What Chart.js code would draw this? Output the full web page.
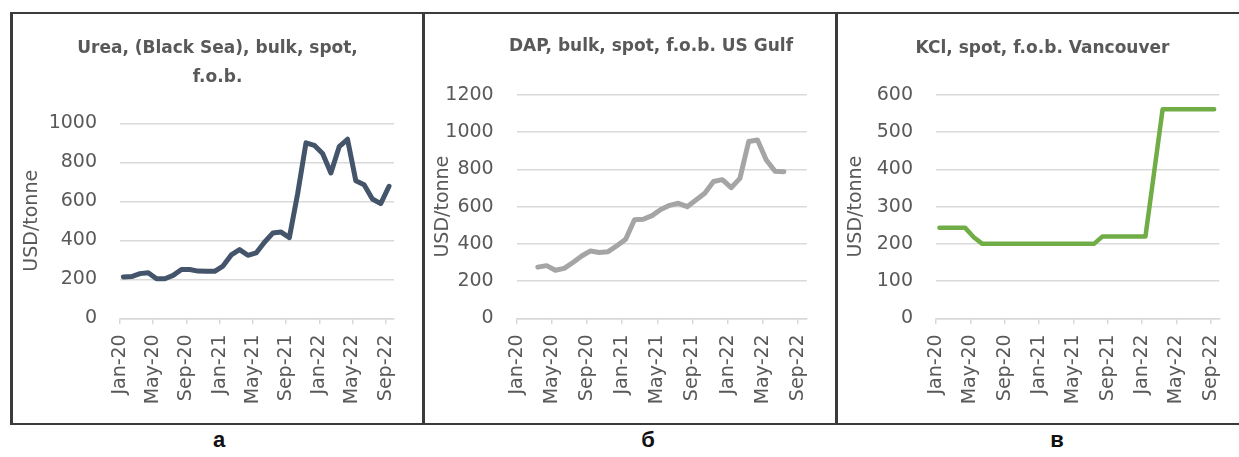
<!DOCTYPE html>
<html>
<head>
<meta charset="utf-8">
<script src="https://cdn.jsdelivr.net/npm/chart.js@4.4.1/dist/chart.umd.min.js"></script>
<style>
  html, body { margin:0; padding:0; background:#fff; }
  body { position:relative; width:1239px; height:457px; overflow:hidden; font-family:"DejaVu Sans", sans-serif; }
  canvas { position:absolute; }
  .ln { position:absolute; background:#3b3b3b; }
  .lbl { position:absolute; top:427px; width:60px; text-align:center; font:bold 22px "Liberation Sans", Arial, sans-serif; color:#111; }
</style>
</head>
<body>
<canvas id="ureaChart" width="409" height="409" style="left:13px;top:14px"></canvas>
<canvas id="dapChart" width="450" height="409" style="left:426px;top:14px"></canvas>
<canvas id="kclChart" width="409" height="409" style="left:838px;top:14px"></canvas>

<div class="ln" style="left:10px;top:12px;width:1229px;height:2px"></div>
<div class="ln" style="left:10px;top:423px;width:1229px;height:2px"></div>
<div class="ln" style="left:10px;top:12px;width:3px;height:413px"></div>
<div class="ln" style="left:422px;top:12px;width:3px;height:413px"></div>
<div class="ln" style="left:835px;top:12px;width:2.5px;height:413px"></div>

<div class="lbl" style="left:189px">а</div>
<div class="lbl" style="left:618px">б</div>
<div class="lbl" style="left:1027px">в</div>

<script>
// tick labels on the date axis, one every 4 months starting Jan-20
const tickLabels = ["Jan-20","May-20","Sep-20","Jan-21","May-21","Sep-21","Jan-22","May-22","Sep-22"];

// monthly prices, USD/tonne
// urea: Jan-20 .. Sep-22
const ureaVals = [212,214,229,234,203,203,220,250,250,242,241,241,
                  268,325,352,323,335,390,437,442,414,640,900,887,
                  845,745,880,918,705,685,612,588,677];
// DAP: Mar-20 .. Jul-22
const dapStart = 2;
const dapVals = [275,283,258,268,300,335,362,354,358,390,
                 425,530,532,552,585,607,618,600,636,672,
                 735,745,702,752,950,958,851,790,788];
// KCl: Jan-20 .. Sep-22
const kclVals = [243,243,243,243,218,200,200,200,200,200,200,200,
                 200,200,200,200,200,200,200,220,220,220,220,220,
                 220,391,562,562,562,562,562,562,562];

const xOff = 0.4; // observations sit a bit after the 1st of the month

const grey = "#595959";
const gridCol = "#d9d9d9";
const fam = "DejaVu Sans";

function toPts(vals, start){
  return vals.map((v,i) => ({x: start + i + xOff, y: v}));
}

function makeChart(id, o){
  const ctx = document.getElementById(id).getContext("2d");
  return new Chart(ctx, {
    type: "line",
    data: {
      datasets: [{
        data: o.data,
        borderColor: o.color,
        borderWidth: o.lw,
        borderJoinStyle: "round",
        borderCapStyle: "round",
        pointRadius: 0,
        tension: 0
      }]
    },
    options: {
      responsive: false,
      animation: false,
      layout: { padding: 0 },
      plugins: {
        legend: { display: false },
        tooltip: { enabled: false },
        title: {
          display: true,
          text: o.title,
          color: grey,
          font: { family: fam, size: 17, weight: "bold", lineHeight: 1.67 },
          padding: { top: o.tPadTop, bottom: o.tPadBot }
        }
      },
      scales: {
        x: {
          type: "linear",
          min: 0, max: 33,
          afterFit: s => { s.height = 104.7; },
          ticks: {
            stepSize: 4,
            includeBounds: false,
            autoSkip: false,
            minRotation: 90, maxRotation: 90,
            padding: 10,
            color: grey,
            font: { family: fam, size: 19 },
            callback: v => tickLabels[v/4]
          },
          grid: { drawOnChartArea: false, drawTicks: true, tickLength: 6, color: gridCol, lineWidth: 1.5 },
          border: { display: true, color: gridCol, width: 1.5 }
        },
        y: {
          min: 0, max: o.ymax,
          afterFit: s => { s.width = o.yw; },
          ticks: {
            stepSize: o.step, padding: 23, color: grey,
            font: { family: fam, size: 19 },
            callback: v => String(v)
          },
          grid: { drawTicks: false, color: gridCol, lineWidth: 1.5 },
          border: { display: false },
          title: {
            display: true, text: "USD/tonne", color: grey,
            font: { family: fam, size: 19 },
            padding: { top: o.yTitlePad, bottom: 0 }
          }
        },
        // empty right-hand box that keeps the plot narrower than the title
        yR: {
          position: "right",
          display: true,
          afterFit: s => { s.width = o.rw; },
          ticks: { display: false },
          grid: { display: false, drawTicks: false },
          border: { display: false }
        }
      }
    }
  });
}

makeChart("ureaChart", {
  data: toPts(ureaVals, 0), color: "#44546a", lw: 5,
  title: ["Urea, (Black Sea), bulk, spot,", "f.o.b."],
  tPadTop: 20.8, tPadBot: 31.7,
  ymax: 1000, step: 200, yw: 107, rw: 28, yTitlePad: 8
});

makeChart("dapChart", {
  data: toPts(dapVals, dapStart), color: "#a5a5a5", lw: 5,
  title: "DAP, bulk, spot, f.o.b. US Gulf",
  tPadTop: 18.6, tPadBot: 34,
  ymax: 1200, step: 200, yw: 90.7, rw: 69.3, yTitlePad: 5.6
});

makeChart("kclChart", {
  data: toPts(kclVals, 0), color: "#70ad47", lw: 4.5,
  title: "KCl, spot, f.o.b. Vancouver",
  tPadTop: 20.8, tPadBot: 31.8,
  ymax: 600, step: 100, yw: 98, rw: 27.7, yTitlePad: 6.6
});
</script>
</body>
</html>
